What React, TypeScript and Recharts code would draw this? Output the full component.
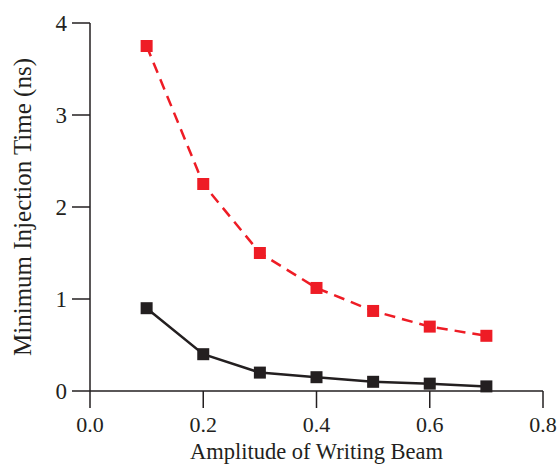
import { LineChart, Line, XAxis, YAxis, Label } from 'recharts';

const amplitudes = [0.1, 0.2, 0.3, 0.4, 0.5, 0.6, 0.7];
const redSeries = [3.75, 2.25, 1.5, 1.12, 0.87, 0.7, 0.6];
const blackSeries = [0.9, 0.4, 0.2, 0.15, 0.1, 0.08, 0.05];
const xTicks = [0, 0.2, 0.4, 0.6, 0.8];
const yTicks = [0, 1, 2, 3, 4];

const data = amplitudes.map((a, i) => ({ amp: a, red: redSeries[i], black: blackSeries[i] }));

const axisColor = '#231f20';
const font = '"Liberation Serif", "DejaVu Serif", serif';

function squareDot(color: string) {
  return (props: any) => {
    const { cx, cy, index } = props;
    if (cx == null || cy == null) return <g key={index} />;
    return <rect key={index} x={cx - 6} y={cy - 6} width={12} height={12} fill={color} />;
  };
}

export default function App() {
  return (
    <div style={{ position: 'absolute', left: 0, top: 0, width: 559, height: 465, background: '#fff' }}>
      <LineChart width={559} height={465} data={data} margin={{ top: 23, right: 16, bottom: 44, left: 30 }}>
        <XAxis
          dataKey="amp"
          type="number"
          domain={[0, 0.8]}
          ticks={xTicks}
          tickFormatter={(v: number) => v.toFixed(1)}
          tickSize={17}
          height={30}
          stroke={axisColor}
          strokeWidth={1.5}
          tick={{ fontSize: 22, fill: axisColor, fontFamily: font, dy: 6 }}
        >
          <Label value="Amplitude of Writing Beam" position="insideBottom" offset={-38} style={{ fontSize: 22.5, fill: axisColor, fontFamily: font }} />
        </XAxis>
        <YAxis
          type="number"
          domain={[0, 4]}
          ticks={yTicks}
          tickSize={18}
          width={60}
          stroke={axisColor}
          strokeWidth={1.5}
          tick={{ fontSize: 23, fill: axisColor, fontFamily: font, dx: -3 }}
        >
          <Label
            value="Minimum Injection Time (ns)"
            angle={-90}
            position="insideLeft"
            offset={-8}
            style={{ fontSize: 25, fill: axisColor, fontFamily: font, textAnchor: 'middle' }}
          />
        </YAxis>
        <Line
          dataKey="red"
          stroke="#ee1c25"
          strokeWidth={2.5}
          strokeDasharray="11 7"
          dot={squareDot('#ee1c25')}
          isAnimationActive={false}
        />
        <Line
          dataKey="black"
          stroke={axisColor}
          strokeWidth={2.5}
          dot={squareDot(axisColor)}
          isAnimationActive={false}
        />
      </LineChart>
    </div>
  );
}
